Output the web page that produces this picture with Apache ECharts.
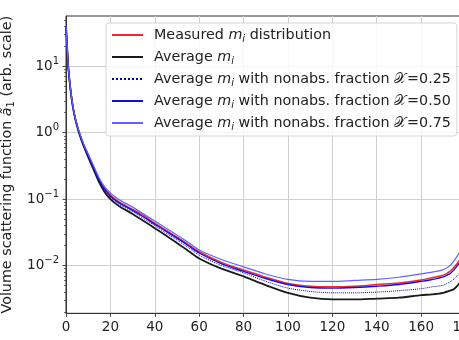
<!DOCTYPE html>
<html><head><meta charset="utf-8">
<script src="https://cdn.jsdelivr.net/npm/echarts@6/dist/echarts.min.js"></script>
<style>html,body{margin:0;padding:0;background:#fff}#c{width:459px;height:340px}</style>
</head><body><div id="c"></div>
<script>
// Scattering angle (degrees)
const angles = [0,0.5,1,2,3,4,5,6,8,10,12,15,17.5,20,22.5,25,30,35,40,45,50,55,60,70,80,90,100,110,120,130,140,150,160,165,170,173,175,178,180];
// Measured m_i distribution
const measured = [40,20,10,4.6,2.6,1.75,1.3,1.0,0.66,0.47,0.33,0.197,0.1435,0.1153,0.0982,0.0865,0.0703,0.057,0.0436,0.0343,0.0269,0.0209,0.0162,0.0112,0.0086,0.0067,0.0054,0.0049,0.0048,0.0049,0.0052,0.0055,0.0061,0.0066,0.0072,0.0082,0.0096,0.0128,0.015];
// Average m_i
const average = [40,20,10,4.5,2.55,1.7,1.25,0.96,0.62,0.43,0.3,0.177,0.126,0.100,0.085,0.0745,0.060,0.047,0.0366,0.0285,0.022,0.0168,0.0128,0.0090,0.0069,0.0051,0.0039,0.0033,0.0031,0.0031,0.0032,0.0033,0.0036,0.0037,0.0039,0.0042,0.0045,0.0058,0.0068];
// Average m_i with nonabs. fraction 0.25
const frac25 = [40,20,10,4.55,2.57,1.72,1.27,0.97,0.63,0.44,0.31,0.187,0.134,0.1065,0.090,0.0795,0.065,0.051,0.040,0.031,0.0243,0.0188,0.0144,0.0101,0.0078,0.0058,0.0046,0.0041,0.0039,0.0039,0.0040,0.0042,0.0045,0.0048,0.0051,0.0057,0.0064,0.0082,0.0095];
// Average m_i with nonabs. fraction 0.50
const frac50 = [40,20,10,4.6,2.6,1.74,1.29,0.99,0.65,0.46,0.325,0.194,0.139,0.112,0.0948,0.0835,0.068,0.054,0.042,0.033,0.0259,0.0201,0.0155,0.0107,0.0082,0.0064,0.0052,0.0047,0.0046,0.0047,0.0049,0.0052,0.0058,0.0062,0.0068,0.0076,0.0088,0.0118,0.0138];
// Average m_i with nonabs. fraction 0.75
const frac75 = [40,20,10,4.65,2.65,1.78,1.32,1.02,0.67,0.48,0.34,0.207,0.152,0.1245,0.106,0.0935,0.076,0.060,0.047,0.037,0.029,0.0225,0.0172,0.0124,0.0096,0.0075,0.0062,0.0058,0.0058,0.0060,0.0062,0.0067,0.0075,0.0080,0.0087,0.0100,0.0121,0.0168,0.0200];

const seriesNames = ['Measured mi distribution','Average mi','Average mi 0.25','Average mi 0.50','Average mi 0.75'];
const legendLabels = [
  'Measured {it|m}{sub|i}{t| distribution}',
  'Average {it|m}{sub|i}',
  'Average {it|m}{sub|i}{t| with nonabs. fraction }{cal|𝒳}{t|=0.25}',
  'Average {it|m}{sub|i}{t| with nonabs. fraction }{cal|𝒳}{t|=0.50}',
  'Average {it|m}{sub|i}{t| with nonabs. fraction }{cal|𝒳}{t|=0.75}'
];
const xTickValues = [0,20,40,60,80,100,120,140,160,180];
const yTickValues = [0.01,0.1,1,10];
const yMin = 0.00192, yMax = 57;

const minorTicks = [];
for (let d = -3; d <= 1; d++) for (let k = 2; k <= 9; k++) {
  const v = +(k * Math.pow(10, d)).toPrecision(6);
  if (v > yMin && v < yMax) minorTicks.push(v);
}

const FONT = 'DejaVu Sans';
const LF = 14.3;
const pair = arr => angles.map((a, i) => [a, arr[i]]);
const styles = [
  {color: 'rgb(240,40,50)', width: 1.5, type: 'solid'},
  {color: '#1a1a1a', width: 1.8, type: 'solid'},
  {color: '#0000cc', width: 1, type: 'dotted'},
  {color: '#1010e0', width: 1.4, type: 'solid'},
  {color: '#6262ff', width: 1.2, type: 'solid'}
];
const dataSets = [measured, average, frac25, frac50, frac75];

const chart = echarts.init(document.getElementById('c'), null, {renderer: 'canvas'});
chart.setOption({
  animation: false,
  backgroundColor: '#fff',
  grid: {left: 66, top: 16, width: 399.5, height: 297.3, containLabel: false, outerBoundsMode: 'none',
         show: true, borderColor: '#333', borderWidth: 1, backgroundColor: 'transparent'},
  legend: {
    orient: 'vertical', left: 106, top: 23, padding: [3, 6, 4, 5], itemGap: 4,
    itemWidth: 31, itemHeight: 14,
    itemStyle: {opacity: 0},
    backgroundColor: 'rgba(255,255,255,0.8)', borderColor: '#d6d6d6', borderWidth: 1, borderRadius: 3,
    data: seriesNames,
    formatter: name => legendLabels[seriesNames.indexOf(name)],
    textStyle: {
      fontFamily: FONT, fontSize: LF, color: '#222', lineHeight: 18, padding: [0, 0, 0, 6],
      rich: {
        t: {fontFamily: FONT, fontSize: LF, color: '#222', lineHeight: 18},
        it: {fontFamily: FONT, fontSize: LF, fontStyle: 'italic', color: '#222', lineHeight: 18},
        sub: {fontFamily: FONT, fontSize: 10, fontStyle: 'italic', color: '#222', lineHeight: 11, verticalAlign: 'bottom'},
        cal: {fontFamily: FONT, fontSize: LF, color: '#222', lineHeight: 18, padding: [0, 1, 0, 0]}
      }
    }
  },
  xAxis: {
    type: 'value', min: 0, max: 180, interval: 20,
    axisLine: {lineStyle: {color: '#333', width: 1}},
    axisTick: {length: 3.5, lineStyle: {color: '#333', width: 0.9}},
    axisLabel: {fontFamily: FONT, fontSize: 13.5, color: '#222', margin: 7, showMaxLabel: true, showMinLabel: true},
    splitLine: {lineStyle: {color: '#cfcfcf', width: 1}}
  },
  yAxis: [{
    type: 'log', min: yMin, max: yMax,
    name: 'Volume scattering function {it|ã}{sub|1} (arb. scale)',
    nameLocation: 'middle', nameGap: 50, nameRotate: 90,
    nameTextStyle: {
      fontFamily: FONT, fontSize: 14.3, color: '#222', lineHeight: 18,
      rich: {
        it: {fontFamily: FONT, fontSize: 14.3, fontStyle: 'italic', color: '#222', lineHeight: 18},
        sub: {fontFamily: FONT, fontSize: 10, color: '#222', lineHeight: 11, verticalAlign: 'bottom'}
      }
    },
    axisLine: {show: true, lineStyle: {color: '#333', width: 1}},
    axisTick: {show: true, length: 3.5, customValues: yTickValues, lineStyle: {color: '#333', width: 0.9}},
    axisLabel: {
      customValues: yTickValues, margin: 7,
      formatter: v => {
        const e = Math.round(Math.log10(v));
        return '{b|10}{s|' + (e < 0 ? '\u2212' + (-e) : e) + '}';
      },
      rich: {
        b: {fontFamily: FONT, fontSize: 13.5, color: '#222', lineHeight: 20},
        s: {fontFamily: FONT, fontSize: 10, color: '#222', lineHeight: 10, verticalAlign: 'top'}
      }
    },
    splitLine: {show: true, lineStyle: {color: '#cfcfcf', width: 1}}
  }, {
    type: 'log', min: yMin, max: yMax, position: 'left',
    axisLine: {show: false},
    axisTick: {show: true, length: 2, customValues: minorTicks, lineStyle: {color: '#333', width: 0.7}},
    axisLabel: {show: false},
    splitLine: {show: false}
  }],
  series: dataSets.map((arr, i) => ({
    type: 'line', name: seriesNames[i], yAxisIndex: 0,
    data: pair(arr), symbol: 'none', smooth: 0.3,
    lineStyle: styles[i], itemStyle: {color: styles[i].color}
  }))
});
</script></body></html>
